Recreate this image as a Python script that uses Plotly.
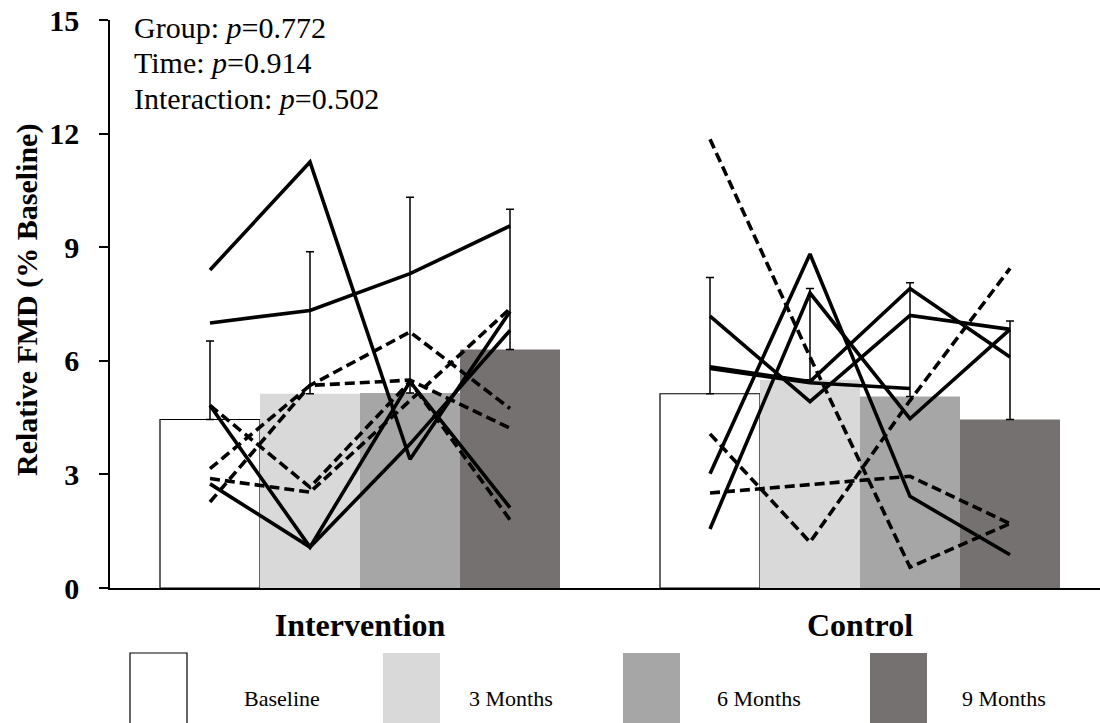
import plotly.graph_objects as go

# ---- data -------------------------------------------------------------
groups = ["Intervention", "Control"]
times = ["Baseline", "3 Months", "6 Months", "9 Months"]
bar_colors = ["#ffffff", "#d9d9d9", "#a6a6a6", "#767171"]

# group means per time point: [Intervention, Control]
mean_baseline = [4.45, 5.13]
mean_3m = [5.13, 5.50]
mean_6m = [5.15, 5.06]
mean_9m = [6.30, 4.45]
means = [mean_baseline, mean_3m, mean_6m, mean_9m]

# upper error bars (SD) per time point: [Intervention, Control]
sd_baseline = [2.07, 3.07]
sd_3m = [3.75, 2.41]
sd_6m = [5.17, 3.00]
sd_9m = [3.70, 2.60]
sds = [sd_baseline, sd_3m, sd_6m, sd_9m]

# individual participants, values at Baseline, 3, 6, 9 months
intervention_solid = [
    [8.40, 11.25, 3.40, 7.30],
    [7.00, 7.33, 8.30, 9.56],
    [4.82, 1.08, 5.45, 2.12],
    [2.75, 1.08, 3.80, 6.80],
]
intervention_dashed = [
    [2.27, 5.35, 6.76, 4.74],
    [3.15, 5.35, 5.49, 4.22],
    [4.82, 2.66, 5.45, 1.80],
    [2.89, 2.53, 4.95, 7.38],
]
control_solid = [
    [7.18, 4.92, 7.20, 6.83],
    [5.84, 5.45, 7.91, 6.10],
    [5.80, 5.42, 5.27, None],
    [3.02, 8.82, 2.42, 0.88],
    [1.56, 7.79, 4.47, 6.83],
]
control_dashed = [
    [11.85, 6.10, 0.55, 1.70],
    [4.07, 1.21, 4.95, 8.44],
    [2.51, 2.73, 2.95, 1.70],
]

stats_lines = [
    ("Group", "0.772"),
    ("Time", "0.914"),
    ("Interaction", "0.502"),
]

# ---- geometry ---------------------------------------------------------
W, H = 1100, 723
M_L, M_R, M_T, M_B = 110, 0, 20, 135
X_RANGE = [-0.5, 1.48]
BARGAP = 0.2
n_t = len(times)
bar_w = (1 - BARGAP) / n_t
offsets = [-(1 - BARGAP) / 2 + bar_w * (i + 0.5) for i in range(n_t)]

SERIF = "Liberation Serif"

fig = go.Figure()

for i, t in enumerate(times):
    fig.add_trace(go.Bar(
        x=list(range(len(groups))),
        y=means[i],
        name=t,
        marker=dict(color=bar_colors[i],
                    line=dict(color="black" if i == 0 else bar_colors[i],
                              width=1.2 if i == 0 else 0)),
        error_y=dict(type="data", symmetric=False, array=sds[i],
                     arrayminus=[0] * len(groups), color="black",
                     thickness=1.5, width=4),
        showlegend=False,
    ))


def add_subject(gi, vals, dashed):
    xs = [gi + o for o in offsets]
    fig.add_trace(go.Scatter(
        x=xs, y=vals, mode="lines",
        line=dict(color="black", width=3.6,
                  dash="10px,5px" if dashed else "solid"),
        connectgaps=False, showlegend=False, hoverinfo="skip",
    ))


for v in intervention_solid:
    add_subject(0, v, False)
for v in intervention_dashed:
    add_subject(0, v, True)
for v in control_solid:
    add_subject(1, v, False)
for v in control_dashed:
    add_subject(1, v, True)

plot_w = W - M_L - M_R
plot_h = H - M_T - M_B


def px_x(px):
    return (px - M_L) / plot_w


def px_y(py):
    return (H - M_B - py) / plot_h


annotations = []
# statistics text block
for k, (lab, p) in enumerate(stats_lines):
    annotations.append(dict(
        xref="paper", yref="paper", x=px_x(132), y=px_y(28 + 35 * k),
        xanchor="left", yanchor="middle", showarrow=False,
        text=f"{lab}: <i>p</i>={p}",
        font=dict(family=SERIF, size=30, color="black"),
    ))

# y axis title
annotations.append(dict(
    xref="paper", yref="paper", x=px_x(27), y=px_y(300),
    xanchor="center", yanchor="middle", showarrow=False, textangle=-90,
    text="Relative FMD (% Baseline)",
    font=dict(family=SERIF, size=30, color="black", weight="bold"),
))

# legend drawn below the chart
shapes = []
sw_left = [130, 383, 623, 870]
txt_left = [242, 467, 715, 960]
for i, t in enumerate(times):
    shapes.append(dict(
        type="rect", xref="paper", yref="paper",
        x0=px_x(sw_left[i]), x1=px_x(sw_left[i] + 57),
        y0=px_y(653), y1=px_y(730),
        fillcolor=bar_colors[i],
        line=dict(color="black" if i == 0 else bar_colors[i],
                  width=1.2 if i == 0 else 0),
        layer="above",
    ))
    annotations.append(dict(
        xref="paper", yref="paper", x=px_x(txt_left[i]), y=px_y(698),
        xanchor="left", yanchor="middle", showarrow=False, text=t,
        font=dict(family=SERIF, size=22, color="black"),
    ))

fig.update_layout(
    width=W, height=H,
    margin=dict(l=M_L, r=M_R, t=M_T, b=M_B, pad=0),
    paper_bgcolor="white", plot_bgcolor="white",
    barmode="group", bargap=BARGAP, bargroupgap=0,
    showlegend=False,
    xaxis=dict(
        range=X_RANGE, tickvals=list(range(len(groups))), ticktext=groups,
        showline=True, linecolor="black", linewidth=1.5,
        showgrid=False, zeroline=False, ticks="",
        tickfont=dict(family=SERIF, size=32, color="black", weight="bold"),
        ticklabelstandoff=8,
    ),
    yaxis=dict(
        range=[0, 15], tickvals=[0, 3, 6, 9, 12, 15],
        showline=True, linecolor="black", linewidth=1.5,
        showgrid=False, zeroline=False,
        ticks="outside", ticklen=9, tickwidth=1.5, tickcolor="black",
        tickfont=dict(family=SERIF, size=30, color="black", weight="bold"),
        ticklabelstandoff=14,
    ),
    shapes=shapes,
    annotations=annotations,
)

fig.write_html("out.html")
